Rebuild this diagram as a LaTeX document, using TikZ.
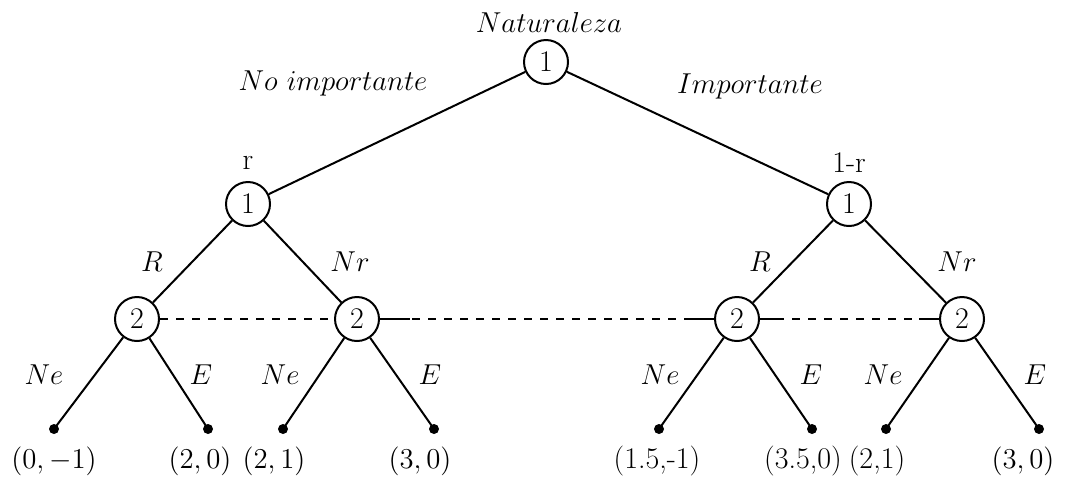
\documentclass[tikz,border=0pt]{standalone}
\begin{document}
\begin{tikzpicture}[x=0.5pt,y=-0.5pt,
  every node/.style={font=\fontsize{15pt}{18pt}\selectfont},
  pnode/.style={draw,circle,line width=1pt,minimum size=22pt,inner sep=0pt},
  leaf/.style={fill,circle,inner sep=0pt,minimum size=5pt},
  edge/.style={line width=1pt},
  infoset/.style={line width=1pt,dash pattern=on 4pt off 4pt},
  lbl/.style={inner sep=0pt}]
\useasboundingbox (0,0) rectangle (1079,479);
% decision nodes
\node[pnode] (root) at (546,62) {1};
\node[pnode] (L) at (248,204) {1};
\node[pnode] (Rt) at (849,204) {1};
\node[pnode] (A) at (137,319) {2};
\node[pnode] (B) at (357,319) {2};
\node[pnode] (C) at (737,319) {2};
\node[pnode] (D) at (962,319) {2};
% leaves
\node[leaf] (a1) at (54,429) {};
\node[leaf] (a2) at (208,429) {};
\node[leaf] (b1) at (283,429) {};
\node[leaf] (b2) at (434,429) {};
\node[leaf] (c1) at (659,429) {};
\node[leaf] (c2) at (812,429) {};
\node[leaf] (d1) at (886,429) {};
\node[leaf] (d2) at (1039,429) {};
% edges
\draw[edge] (root) -- (L);
\draw[edge] (root) -- (Rt);
\draw[edge] (L) -- (A);
\draw[edge] (L) -- (B);
\draw[edge] (Rt) -- (C);
\draw[edge] (Rt) -- (D);
\draw[edge] (A) -- (a1.center);
\draw[edge] (A) -- (a2.center);
\draw[edge] (B) -- (b1.center);
\draw[edge] (B) -- (b2.center);
\draw[edge] (C) -- (c1.center);
\draw[edge] (C) -- (c2.center);
\draw[edge] (D) -- (d1.center);
\draw[edge] (D) -- (d2.center);
% information set
\draw[infoset] (A.east) -- (B.west);
\draw[infoset] (B.east) -- (C.west);
\draw[infoset] (C.east) -- (D.west);
\draw[edge] (B.east) -- ++(30,0);
\draw[edge] (C.west) -- ++(-30,0);
\draw[edge] (C.east) -- ++(20,0);
\draw[edge] (D.west) -- ++(-20,0);
% labels
\node[lbl] (nat) at (549,22) {$Naturaleza$};
\node[lbl] (noimp) at (333,83) {$No\ importante$};
\node[lbl] (imp) at (750,86) {$Importante$};
\node[lbl] (r) at (248,163) {r};
\node[lbl] (1r) at (849,163) {1-r};
\node[lbl] (lR1) at (152,262) {$R$};
\node[lbl] (lNr1) at (350,262) {$Nr$};
\node[lbl] (lR2) at (760,262) {$R$};
\node[lbl] (lNr2) at (957,262) {$Nr$};
\node[lbl] (e1) at (44,375) {$Ne$};
\node[lbl] (e2) at (201,375) {$E$};
\node[lbl] (e3) at (280,375) {$Ne$};
\node[lbl] (e4) at (430,375) {$E$};
\node[lbl] (e5) at (660,375) {$Ne$};
\node[lbl] (e6) at (811,375) {$E$};
\node[lbl] (e7) at (883,375) {$Ne$};
\node[lbl] (e8) at (1035,375) {$E$};
% payoffs
\node[lbl] (p1) at (54,461) {$(0,-1)$};
\node[lbl] (p2) at (200,461) {$(2,0)$};
\node[lbl] (p3) at (274,461) {$(2,1)$};
\node[lbl] (p4) at (420,461) {$(3,0)$};
\node[lbl] (p5) at (657,461) {(1.5,-1)};
\node[lbl] (p6) at (803,461) {(3.5,0)};
\node[lbl] (p7) at (877,461) {(2,1)};
\node[lbl] (p8) at (1023,461) {$(3,0)$};
\end{tikzpicture}
\end{document}
